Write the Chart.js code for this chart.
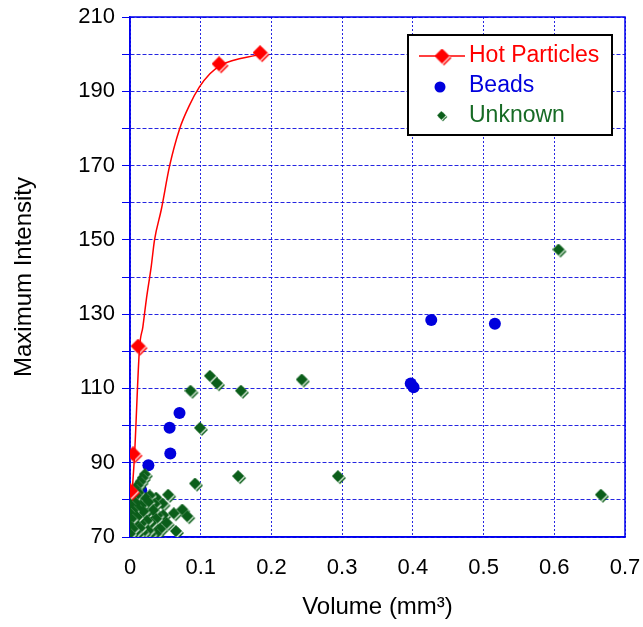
<!DOCTYPE html>
<html>
<head>
<meta charset="utf-8">
<script src="https://cdn.jsdelivr.net/npm/chart.js@4.4.1/dist/chart.umd.min.js"></script>
<style>
  html, body { margin: 0; padding: 0; background: #fff; }
  #wrap { width: 643px; height: 627px; }
</style>
</head>
<body>
<div id="wrap"><canvas id="chart" width="643" height="627"></canvas></div>
<script>
// Hot particles: marker points and the fitted curve
const hotX = [0.003, 0.0064, 0.0135, 0.128, 0.186];
const hotY = [82, 92, 121, 197, 200];
const hotCurveX = [0.003, 0.0064, 0.0135, 0.0182, 0.023, 0.030, 0.0347, 0.0442, 0.056, 0.070, 0.084, 0.098, 0.113, 0.128, 0.186];
const hotCurveY = [82, 92, 121, 126.6, 133.8, 142.8, 150, 158.1, 169.9, 179.8, 186.2, 191.1, 194.7, 197, 200];

const beadX = [0.0158, 0.026, 0.057, 0.056, 0.070, 0.397, 0.401, 0.426, 0.516];
const beadY = [82.6, 89.3, 92.5, 99.4, 103.4, 111.3, 110.3, 128.4, 127.4];

const unknownX = [0.608, 0.668, 0.296, 0.245, 0.159, 0.155, 0.125, 0.115, 0.101, 0.0876, 0.094,
  0.023, 0.020, 0.017, 0.013, 0.010, 0.014, 0.005, 0.011, 0.009, 0.004,
  0.056, 0.039, 0.030, 0.025, 0.048, 0.037, 0.028, 0.018, 0.015,
  0.064, 0.076, 0.083, 0.049, 0.041, 0.025, 0.035, 0.021, 0.006, 0.002,
  0.039, 0.054, 0.032, 0.026, 0.018, 0.012, 0.008, 0.004, 0.003,
  0.067, 0.045, 0.039, 0.031, 0.028, 0.023, 0.020, 0.016, 0.013, 0.010, 0.006, 0.002];
const unknownY = [147, 81, 86, 112, 109, 86, 111, 113, 99, 109, 84,
  86.5, 85.5, 84.5, 83.5, 82.5, 81.5, 80, 80.8, 79, 78,
  81, 80.2, 80.8, 80, 78.6, 78.5, 79, 78, 77,
  76, 77, 75.2, 75.5, 75.4, 75.8, 76.8, 76.5, 76.7, 76,
  74.5, 73.4, 73.4, 74, 73.2, 75, 73.5, 74.5, 72.5,
  71.2, 71.8, 70.5, 70.3, 71.3, 70.3, 70.8, 72, 70.2, 71, 71.8, 70.5];

const xTicks = [0, 0.1, 0.2, 0.3, 0.4, 0.5, 0.6, 0.7];
const yTicks = [70, 90, 110, 130, 150, 170, 190, 210];

const FONT = "'Liberation Sans', Arial, sans-serif";
const RED = '#ff0000';
const BLUE = '#0000dd';
const GREEN = '#0b5e1a';
const GRID = 'rgba(0,0,220,0.85)';

// diamond marker with the light edge seen in the original
function diamond(fill, edge, size) {
  const c = document.createElement('canvas');
  c.width = size + 3;
  c.height = size + 3;
  const g = c.getContext('2d');
  const h = size / 2;
  const path = (d) => {
    g.beginPath();
    g.moveTo(h + d, d);
    g.lineTo(size + d, h + d);
    g.lineTo(h + d, size + d);
    g.lineTo(d, h + d);
    g.closePath();
  };
  path(2); g.fillStyle = fill; g.fill();
  path(1); g.fillStyle = edge; g.fill();
  path(0); g.fillStyle = fill; g.fill();
  return c;
}
const redDiamond = diamond(RED, '#ffd6d6', 15);
const greenDiamond = diamond(GREEN, '#d8ead8', 12);

const pts = (xs, ys) => xs.map((x, i) => ({ x: x, y: ys[i] }));

// solid blue box round the plot
const frame = {
  id: 'frame',
  beforeDatasetsDraw(chart) {
    const a = chart.chartArea;
    const ctx = chart.ctx;
    ctx.save();
    ctx.strokeStyle = '#0000ee';
    ctx.lineWidth = 1.5;
    ctx.strokeRect(a.left, a.top, a.right - a.left, a.bottom - a.top);
    ctx.restore();
  }
};

// boxed legend in the top right, line + marker like the original
const legendBox = {
  id: 'legendBox',
  afterDraw(chart) {
    const ctx = chart.ctx;
    ctx.save();
    ctx.fillStyle = '#fff';
    ctx.fillRect(408, 35, 204, 100);
    ctx.lineWidth = 2;
    ctx.strokeStyle = '#000';
    ctx.strokeRect(408, 35, 204, 100);
    ctx.font = '23px ' + FONT;
    ctx.textBaseline = 'middle';
    const ds = chart.data.datasets.filter(d => d.legend);
    ds.forEach((d, i) => {
      const y = 56 + i * 30;
      if (d.legend === 'hot') {
        ctx.strokeStyle = RED;
        ctx.lineWidth = 1.5;
        ctx.beginPath();
        ctx.moveTo(419, y);
        ctx.lineTo(465, y);
        ctx.stroke();
        ctx.drawImage(redDiamond, 442 - 7.5, y - 7.5);
      } else if (d.legend === 'bead') {
        ctx.fillStyle = BLUE;
        ctx.beginPath();
        ctx.arc(440, y + 1, 5.5, 0, Math.PI * 2);
        ctx.fill();
      } else {
        ctx.drawImage(greenDiamond, 442 - 5, y - 5, 11, 11);
      }
      ctx.fillStyle = d.textColor;
      ctx.fillText(d.label, 469, y);
    });
    ctx.restore();
  }
};

new Chart(document.getElementById('chart'), {
  type: 'scatter',
  data: {
    datasets: [
      {
        label: 'Hot Particles curve',
        type: 'line',
        data: pts(hotCurveX, hotCurveY),
        borderColor: RED,
        borderWidth: 1.5,
        pointRadius: 0,
        cubicInterpolationMode: 'monotone',
        fill: false,
        order: 0
      },
      {
        label: 'Hot Particles',
        legend: 'hot',
        textColor: RED,
        data: pts(hotX, hotY),
        pointStyle: redDiamond,
        order: 0
      },
      {
        label: 'Beads',
        legend: 'bead',
        textColor: BLUE,
        data: pts(beadX, beadY),
        pointStyle: 'circle',
        pointRadius: 6,
        backgroundColor: BLUE,
        borderColor: BLUE,
        borderWidth: 0,
        order: 2
      },
      {
        label: 'Unknown',
        legend: 'unknown',
        textColor: '#176b25',
        data: pts(unknownX, unknownY),
        pointStyle: greenDiamond,
        order: 1
      }
    ]
  },
  options: {
    responsive: false,
    animation: false,
    layout: { padding: { top: 17, right: 18, left: 0, bottom: 0 } },
    plugins: { legend: { display: false }, tooltip: { enabled: false } },
    scales: {
      x: {
        type: 'linear',
        min: 0,
        max: 0.7,
        afterFit: (s) => { s.height = 90; s.paddingLeft = 0; s.paddingRight = 0; },
        afterBuildTicks: (s) => { s.ticks = xTicks.map(v => ({ value: v })); },
        ticks: {
          color: '#000',
          font: { family: FONT, size: 22 },
          padding: 18,
          maxRotation: 0,
          callback: (v) => String(v)
        },
        grid: { color: GRID, lineWidth: 1, drawTicks: false },
        border: { color: '#0000ee', width: 1.5, dash: [2, 2] },
        title: {
          display: true,
          text: 'Volume (mm³)',
          color: '#000',
          font: { family: FONT, size: 24 },
          padding: { top: 0, bottom: 5 }
        }
      },
      y: {
        type: 'linear',
        min: 70,
        max: 210,
        afterFit: (s) => { s.width = 130; s.paddingTop = 0; s.paddingBottom = 0; },
        ticks: {
          stepSize: 10,
          color: '#000',
          font: { family: FONT, size: 22 },
          padding: 7,
          callback: (v) => yTicks.includes(v) ? String(v) : ''
        },
        grid: { color: GRID, lineWidth: 1, tickLength: 8, tickColor: '#0000ee' },
        border: { color: '#0000ee', width: 1.5, dash: [4, 2] },
        title: {
          display: true,
          text: 'Maximum Intensity',
          color: '#000',
          font: { family: FONT, size: 24 },
          padding: { top: 10, bottom: 0 }
        }
      }
    }
  },
  plugins: [frame, legendBox]
});
</script>
</body>
</html>
